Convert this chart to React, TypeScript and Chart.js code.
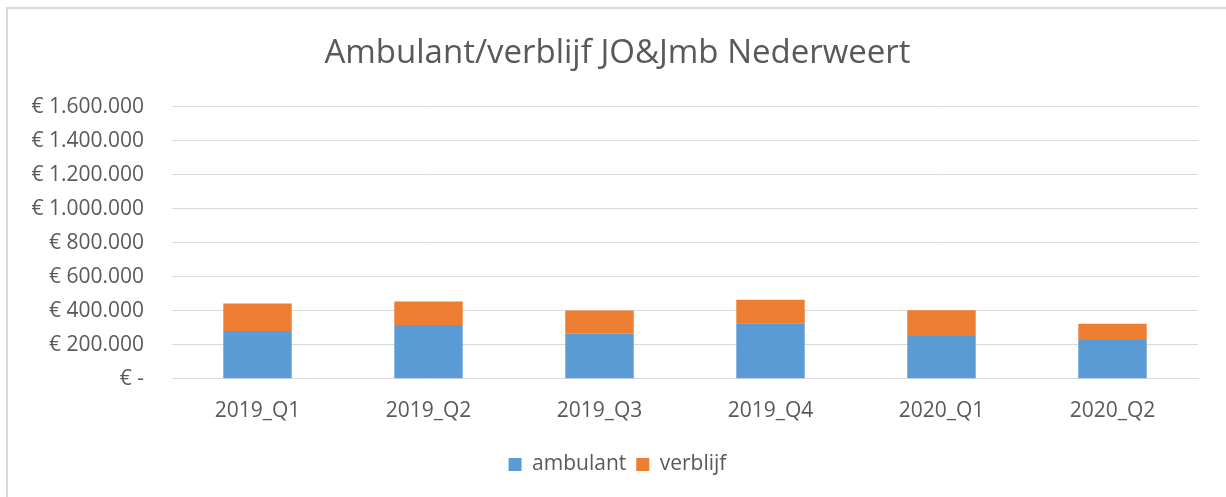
import React, { useEffect, useRef } from "react";
import { Chart, registerables } from "chart.js";

Chart.register(...registerables);

const categories = ["2019_Q1", "2019_Q2", "2019_Q3", "2019_Q4", "2020_Q1", "2020_Q2"];
const ambulant = [281000, 316000, 265000, 327000, 251000, 228000];
const verblijf = [161000, 138000, 136000, 137000, 152000, 95000];
const yMax = 1600000;
const yStep = 200000;

const FONT = "'Open Sans', 'Liberation Sans', sans-serif";
const TEXT = "#595959";

function formatEuro(v: number): string {
  if (v === 0) return "€ -";
  return "€ " + Math.round(v).toString().replace(/\B(?=(\d{3})+(?!\d))/g, ".");
}

// widen the y-axis label clip region so long labels are not cut off
const yLabelRoom = {
  id: "yLabelRoom",
  afterLayout(chart: any) {
    const y = chart.scales.y;
    if (y) y.left -= 14;
  },
};

export default function App() {
  const ref = useRef<HTMLCanvasElement | null>(null);
  useEffect(() => {
    if (!ref.current) return;
    const chart = new Chart(ref.current, {
      type: "bar",
      data: {
        labels: categories,
        datasets: [
          { label: "ambulant", data: ambulant, backgroundColor: "#5B9BD5", borderWidth: 0 },
          { label: "verblijf", data: verblijf, backgroundColor: "#ED7D31", borderWidth: 0 },
        ],
      },
      plugins: [yLabelRoom],
      options: {
        animation: false,
        responsive: false,
        maintainAspectRatio: false,
        layout: { padding: { left: 29, right: 56, top: 0, bottom: 14 } },
        datasets: { bar: { categoryPercentage: 1, barPercentage: 0.4 } },
        plugins: {
          title: {
            display: true,
            text: "Ambulant/verblijf JO&Jmb Nederweert",
            color: TEXT,
            font: { family: FONT, size: 33, weight: "normal" },
            padding: { top: 25, bottom: 33 },
          },
          legend: {
            position: "bottom",
            labels: {
              color: TEXT,
              font: { family: FONT, size: 21 },
              boxWidth: 13,
              boxHeight: 13,
              padding: 10,
            },
          },
          tooltip: { enabled: false },
        },
        scales: {
          x: {
            stacked: true,
            grid: { display: false, drawTicks: false },
            border: { display: true, color: "#d9d9d9", width: 1 },
            ticks: { color: TEXT, font: { family: FONT, size: 21 }, padding: 20 },
          },
          y: {
            stacked: true,
            min: 0,
            max: yMax,
            afterFit: (axis: any) => { axis.width = 135; },
            grid: { color: "#d9d9d9", drawTicks: false },
            border: { display: false },
            ticks: {
              stepSize: yStep,
              color: TEXT,
              font: { family: FONT, size: 21 },
              padding: 28,
              callback: (v: any) => formatEuro(Number(v)),
            },
          },
        },
      },
    });
    return () => chart.destroy();
  }, []);
  return (
    <div
      style={{
        position: "absolute",
        left: 6,
        top: 7,
        width: 1218,
        height: 488,
        overflow: "hidden",
        borderTop: "2px solid #d9d9d9",
        borderLeft: "2px solid #d9d9d9",
        background: "#fff",
      }}
    >
      <canvas ref={ref} width={1246} height={490} style={{ display: "block", width: 1246, height: 490 }} />
    </div>
  );
}
